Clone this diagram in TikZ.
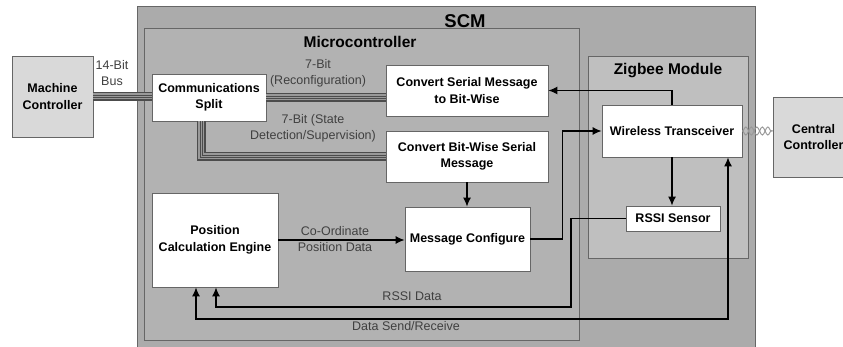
\documentclass[tikz,border=0pt]{standalone}
\usepackage{fontspec}
\setmainfont{Liberation Sans}
\usetikzlibrary{positioning,arrows.meta,decorations.pathmorphing}

\begin{document}
\begin{tikzpicture} [x=1pt,y=-1pt,node distance=0.2cm,
  every node/.style={font=\fontsize{12.5}{16}\selectfont},
  frame/.style={draw=black!60,line width=0.8pt},
  blk/.style={draw=black!60,line width=0.8pt,fill=white,inner sep=0pt,align=center,font=\fontsize{12.5}{16.5}\selectfont\bfseries},
  ext/.style={blk,fill=black!15},
  head/.style={font=\fontsize{15.5}{18}\selectfont\bfseries},
  lbl/.style={align=center,text=black!75},
  wire/.style={line width=1.2pt,>={Latex[length=9pt,width=8pt]}},
  bus/.style={draw=black!70,line width=9pt,postaction={draw=black!40,line width=6pt},postaction={draw=black!70,line width=3pt},postaction={draw=black!40,line width=1pt}},
  twist/.style={draw=black!40,line width=1pt,decorate,decoration={snake,amplitude=4pt,segment length=11pt}}]

\useasboundingbox (0,0) rectangle (843,347);

\draw[frame,fill=black!33] (137,6) rectangle (755,352);
\node[head,font=\fontsize{18.5}{20}\selectfont\bfseries] (scmlbl) at (465,21) {SCM};
\draw[frame,fill=black!30] (144,28) rectangle (579,340);
\node[head] (mclbl) at (360,42) {Microcontroller};
\draw[frame,fill=black!25] (588,56) rectangle (748,258);
\node[head] (zblbl) at (668,71) {Zigbee Module};

\node[ext,minimum width=81pt,minimum height=81pt] (mach) at (52.5,96.5) {Machine\\Controller};
\node[blk,minimum width=114pt,minimum height=47pt] (split) at (209,97.5) {Communications\\Split};
\node[blk,minimum width=162pt,minimum height=51pt] (csm) at (467,90.5) {Convert Serial Message\\to Bit-Wise};
\node[blk,minimum width=162pt,minimum height=51pt] (cbw) at (467,156.5) {Convert Bit-Wise Serial\\Message};
\node[blk,minimum width=125pt,minimum height=64pt] (msgcfg) at (467.5,239) {Message Configure};
\node[blk,minimum width=126pt,minimum height=94pt] (pce) at (215,240) {Position\\Calculation Engine};
\node[blk,minimum width=140pt,minimum height=52pt] (wtx) at (672,131) {Wireless Transceiver};
\node[blk,minimum width=94pt,minimum height=25pt] (rssi) at (673,218.5) {RSSI Sensor};
\node[ext,minimum width=81pt,minimum height=80pt] (cen) at (813.5,137) {Central\\Controller};

\node[lbl] (buslbl) at (112,73.5) {14-Bit\\Bus};
\node[lbl] (reclbl) at (318,73.5) {7-Bit\\(Reconfiguration)};
\node[lbl] (statelbl) at (313,128.5) {7-Bit (State\\Detection/Supervision)};
\node[lbl] (poslbl) at (335,239.5) {Co-Ordinate\\Position Data};
\node[lbl] (rssilbl) at (412,296) {RSSI Data};
\node[lbl] (datalbl) at (406,326) {Data Send/Receive};

\draw[bus] (mach.east) -- (mach.east -| split.west);
\draw[bus] (split.east) -- (split.east -| csm.west);
\draw[bus] ([xshift=-8pt]split.south) |- (cbw.west);

\draw[wire,->] (cbw.south) -- (cbw.south |- msgcfg.north);
\draw[wire,->] (pce.east) -- (pce.east -| msgcfg.west);
\draw[wire,->] (msgcfg.east) -- ++(32,0) |- (wtx.west);
\draw[wire,->] (wtx.north) |- (csm.east);
\draw[wire,->] (wtx.south) -- (wtx.south |- rssi.north);

\coordinate (rssibend) at (571,307);
\draw[wire,->] (rssi.west) -| (rssibend) -| ([xshift=1pt]pce.south);
\coordinate (databend) at (196,319);
\draw[wire,<->] ([xshift=-19pt]pce.south) -- (databend) -| ([xshift=56pt]wtx.south);

\draw[twist] (wtx.east) -- (wtx.east -| cen.west);
\draw[twist,decoration={mirror}] (wtx.east) -- (wtx.east -| cen.west);
\end{tikzpicture}
\end{document}
